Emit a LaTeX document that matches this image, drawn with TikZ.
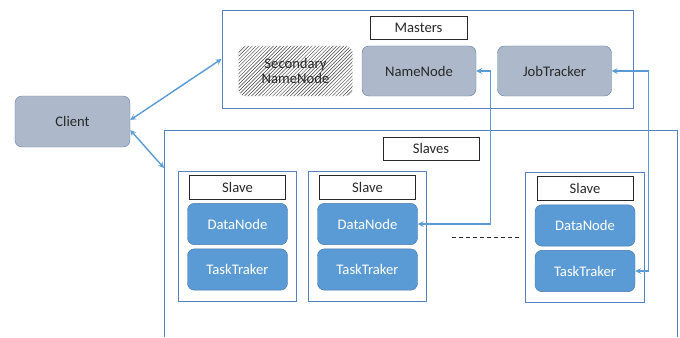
\documentclass[tikz,border=0pt]{standalone}
\usepackage{fontspec}
\setmainfont{Carlito}
\usetikzlibrary{patterns,calc}
\definecolor{framecol}{RGB}{84,130,190}
\definecolor{linkcol}{RGB}{91,155,213}
\definecolor{grayfill}{RGB}{173,185,202}
\definecolor{grayedge}{RGB}{100,130,170}
\definecolor{bluefill}{RGB}{91,155,213}
\definecolor{blueedge}{RGB}{70,120,170}
\definecolor{txt}{RGB}{40,40,40}

\begin{document}
\begin{tikzpicture}[x=0.03cm, y=-0.03cm, >=stealth,
    font=\fontsize{12.5}{13.5}\selectfont,
    frame/.style={draw=framecol, line width=0.8pt},
    title/.style={draw=txt, fill=white, line width=0.8pt, text=txt, inner sep=0pt},
    master/.style={draw=grayedge, fill=grayfill, rounded corners=6pt, text=txt,
        minimum width=3.42cm, minimum height=1.5cm},
    worker/.style={draw=blueedge, fill=bluefill, rounded corners=6pt, text=white,
        minimum width=3cm, minimum height=1.24cm},
    link/.style={draw=linkcol, line width=1.2pt}]
    \useasboundingbox (0,0) rectangle (680,337);

    % masters
    \node[frame, minimum width=12.33cm, minimum height=2.94cm] (mastersbox) at (427.5,59) {};
    \node[title, minimum width=2.91cm, minimum height=0.69cm] (masters) at (418.5,27.5) {Masters};
    \node[master, draw=gray!25, fill=white, pattern=north east lines, pattern color=black!75,
        align=center, text=txt] (secondary) at (295.5,71) {Secondary\\NameNode};
    \node[master] (namenode) at (419,71) {NameNode};
    \node[master] (jobtracker) at (554.5,71) {JobTracker};

    % client
    \node[master, minimum width=3.45cm, minimum height=1.53cm] (client) at (72.5,121.5) {Client};

    % slaves
    \draw[frame] (164,337) |- (677,130) -- (677,337);
    \coordinate (slavesin) at (164,168);
    \node[title, minimum width=2.88cm, minimum height=0.69cm] (slaves) at (431,148.5) {Slaves};

    \foreach \i/\x/\y in {1/237.5/0, 2/367.5/0, 3/585/1.5} {
        \node[frame, minimum width=3.56cm, minimum height=3.9cm] (slavebox\i) at (\x,236+\y) {};
        \node[title, minimum width=2.88cm, minimum height=0.72cm] (slave\i) at (\x,187+\y) {Slave};
        \node[worker] (datanode\i) at (\x,224+\y) {DataNode};
        \node[worker] (tasktraker\i) at (\x,269.5+\y) {TaskTraker};
    }
    \draw[txt, dashed, line width=0.8pt] (452,237) -- (521,237);

    % connectors
    \draw[link, <->] ($(client.east)+(0,-1.5)$) -- (mastersbox.west);
    \draw[link, <->] ($(client.east)+(0,8.5)$) -- (slavesin);
    \draw[link, <->] (namenode.east) -- ++(14,0) |- (datanode2.east);
    \draw[link, <->] (jobtracker.east) -- ++(37,0) |- (tasktraker3.east);
\end{tikzpicture}
\end{document}
